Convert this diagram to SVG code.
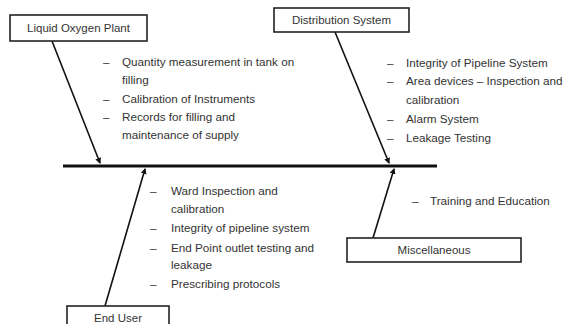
<svg xmlns="http://www.w3.org/2000/svg" width="565" height="324" viewBox="0 0 565 324">
<defs>
<style>
.box{fill:#fff;stroke:#222;stroke-width:1.6}
.lbl{font-family:"Liberation Sans",Arial,sans-serif;font-size:11.5px;fill:#333}
.t{font-family:"Liberation Sans",Arial,sans-serif;font-size:11.7px;fill:#333}
.c{stroke:#111;stroke-width:1.6;fill:none;marker-end:url(#ah)}
</style>
<marker id="ah" markerWidth="6" markerHeight="6" refX="5" refY="3" orient="auto" markerUnits="userSpaceOnUse">
<path d="M0,0 L6,3 L0,6 Z" fill="#111"/>
</marker>
</defs>
<rect width="565" height="324" fill="#fff"/>
<g id="connectors">
<line x1="63" y1="166" x2="437" y2="166" stroke="#111" stroke-width="3"/>
<line class="c" x1="52" y1="41" x2="100" y2="163"/>
<line class="c" x1="335" y1="32" x2="389" y2="163"/>
<line class="c" x1="105" y1="306" x2="145" y2="169"/>
<line class="c" x1="373" y1="238" x2="394" y2="169"/>
</g>
<g id="liquid-oxygen-plant">
<rect class="box" x="10" y="15" width="137" height="26"/>
<text class="lbl" x="78.5" y="32" text-anchor="middle">Liquid Oxygen Plant</text>
<text class="t" x="103" y="66">–</text><text class="t" x="122" y="66">Quantity measurement in tank on</text>
<text class="t" x="122" y="84">filling</text>
<text class="t" x="103" y="103">–</text><text class="t" x="122" y="103">Calibration of Instruments</text>
<text class="t" x="103" y="121">–</text><text class="t" x="122" y="121">Records for filling and</text>
<text class="t" x="122" y="139">maintenance of supply</text>
</g>
<g id="distribution-system">
<rect class="box" x="274" y="8" width="135" height="24"/>
<text class="lbl" x="341.5" y="24" text-anchor="middle">Distribution System</text>
<text class="t" x="387" y="67">–</text><text class="t" x="406" y="67">Integrity of Pipeline System</text>
<text class="t" x="387" y="85">–</text><text class="t" x="406" y="85">Area devices – Inspection and</text>
<text class="t" x="406" y="104">calibration</text>
<text class="t" x="387" y="123">–</text><text class="t" x="406" y="123">Alarm System</text>
<text class="t" x="387" y="142">–</text><text class="t" x="406" y="142">Leakage Testing</text>
</g>
<g id="end-user">
<rect class="box" x="67" y="306" width="102" height="30"/>
<text class="lbl" x="118" y="322" text-anchor="middle">End User</text>
<text class="t" x="150" y="195">–</text><text class="t" x="171" y="195">Ward Inspection and</text>
<text class="t" x="171" y="213">calibration</text>
<text class="t" x="150" y="232">–</text><text class="t" x="171" y="232">Integrity of pipeline system</text>
<text class="t" x="150" y="252">–</text><text class="t" x="171" y="252">End Point outlet testing and</text>
<text class="t" x="171" y="269">leakage</text>
<text class="t" x="150" y="288">–</text><text class="t" x="171" y="288">Prescribing protocols</text>
</g>
<g id="miscellaneous">
<rect class="box" x="347" y="238" width="174" height="24"/>
<text class="lbl" x="434" y="254" text-anchor="middle">Miscellaneous</text>
<text class="t" x="412" y="205">–</text><text class="t" x="430" y="205">Training and Education</text>
</g>
</svg>
